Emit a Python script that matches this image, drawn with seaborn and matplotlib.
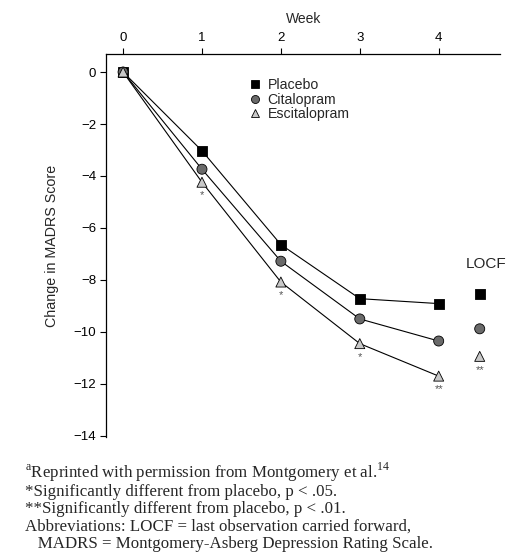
import numpy as np
import matplotlib.pyplot as plt
import pandas as pd
import seaborn as sns

# data
weeks = [0, 1, 2, 3, 4]
placebo = [0, -3.03, -6.64, -8.72, -8.91]
citalopram = [0, -3.74, -7.28, -9.50, -10.35]
escitalopram = [0, -4.24, -8.08, -10.45, -11.70]
locf_x = 4.52
locf = {"Placebo": -8.54, "Citalopram": -9.88, "Escitalopram": -10.94}
# significance marks under escitalopram (weeks 0-4, then LOCF)
esc_sig = ["", "*", "*", "*", "**"]
locf_sig = "**"

drugs = ["Placebo", "Citalopram", "Escitalopram"]
face = {"Placebo": "#000000", "Citalopram": "#6a6a6a", "Escitalopram": "#c8c8c8"}
marks = {"Placebo": "s", "Citalopram": "o", "Escitalopram": "^"}

rows = []
for d, vals in zip(drugs, [placebo, citalopram, escitalopram]):
    for w, v in zip(weeks, vals):
        rows.append({"drug": d, "week": w, "change": v, "locf": False})
    rows.append({"drug": d, "week": locf_x, "change": locf[d], "locf": True})
df = pd.DataFrame(rows)

sns.set_style("white")
plt.rcParams["font.family"] = ["Liberation Sans", "DejaVu Sans"]
plt.rcParams["mathtext.fontset"] = "custom"
plt.rcParams["mathtext.rm"] = "Liberation Serif"

fig = plt.figure(figsize=(5.12, 5.52), dpi=100)
ax = fig.add_axes([0.208, 0.208, 0.769, 0.694])

# lines (weeks only)
sns.lineplot(data=df[~df["locf"]], x="week", y="change", units="drug",
             estimator=None, color="black", lw=0.8, legend=False, ax=ax, zorder=2)

# markers
sns.scatterplot(data=df, x="week", y="change", hue="drug", style="drug",
                hue_order=drugs, style_order=drugs, palette=face, markers=marks,
                s=52, edgecolor="black", linewidth=0.6, ax=ax, zorder=3)

# asterisks
esc = df[(df["drug"] == "Escitalopram")]
for (_, r), sig in zip(esc.iterrows(), esc_sig + [locf_sig]):
    if sig:
        ax.annotate(sig, (r["week"], r["change"]), xytext=(0, -6),
                    textcoords="offset points", ha="center", va="top",
                    fontsize=8, color="#555555")

ax.text(4.6, -7.37, "LOCF", ha="center", va="center", fontsize=11)

leg = ax.legend(loc="upper left", bbox_to_anchor=(0.344, 0.952), frameon=False,
                fontsize=10.2, handletextpad=0.4, labelspacing=0.03,
                borderaxespad=0, handlelength=1.0, markerscale=0.8)

ax.set_xlim(-0.21, 4.78)
ax.set_ylim(-14.05, 0.69)
ax.set_xticks(weeks)
ax.set_yticks(np.arange(0, -15, -2))
ax.set_yticklabels([str(t).replace("-", "\u2212") for t in range(0, -15, -2)])
ax.xaxis.tick_top()
ax.xaxis.set_label_position("top")
ax.set_xlabel("Week", fontsize=10, labelpad=6)
ax.set_ylabel("Change in MADRS Score", fontsize=10.3, labelpad=10.5)
ax.tick_params(axis="both", labelsize=9.5, length=4, width=0.8, direction="out",
               colors="black")
ax.tick_params(axis="x", top=True, bottom=False)
ax.tick_params(axis="y", left=True)
for s in ["right", "bottom"]:
    ax.spines[s].set_visible(False)
for s in ["top", "left"]:
    ax.spines[s].set_color("black")
    ax.spines[s].set_linewidth(0.9)

notes = [
    r"$^{\mathrm{a}}$Reprinted with permission from Montgomery et al.$^{14}$",
    "*Significantly different from placebo, p < .05.",
    "**Significantly different from placebo, p < .01.",
    "Abbreviations: LOCF = last observation carried forward,",
    "   MADRS = Montgomery-Asberg Depression Rating Scale.",
]
for i, t in enumerate(notes):
    fig.text(0.049, 1 - (478 + i * 17.6) / 552, t, ha="left", va="baseline",
             fontsize=12.2, family="Liberation Serif")

fig.savefig("out.png", dpi=100)
